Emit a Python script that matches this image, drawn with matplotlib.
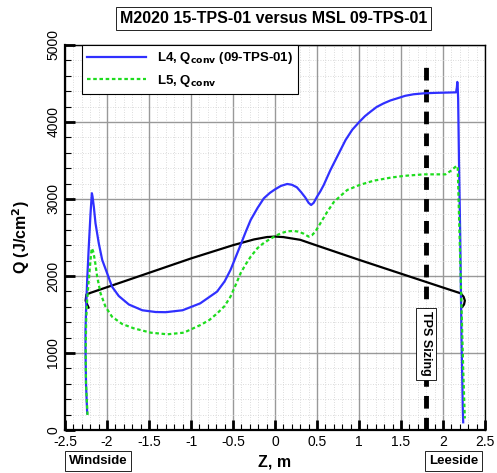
import matplotlib
matplotlib.use("Agg")
import matplotlib.pyplot as plt
from matplotlib.ticker import MultipleLocator

plt.rcParams["font.family"] = ["Liberation Sans", "DejaVu Sans"]

# L4, Q_conv (09-TPS-01)
l4_z = [-2.236, -2.250, -2.256, -2.256, -2.248, -2.236, -2.217, -2.196, -2.185, -2.18,
        -2.172, -2.157, -2.137, -2.098, -2.057, -2.0, -1.94, -1.86, -1.74, -1.58,
        -1.42, -1.3, -1.1, -0.89, -0.69, -0.6, -0.53, -0.47, -0.41, -0.35,
        -0.29, -0.21, -0.133, -0.06, 0.0, 0.07, 0.145, 0.2, 0.26, 0.31,
        0.36, 0.40, 0.43, 0.46, 0.50, 0.54, 0.58, 0.66, 0.74, 0.84,
        0.92, 1.006, 1.07, 1.137, 1.21, 1.295, 1.375, 1.455, 1.55, 1.65,
        1.77, 1.9, 2.05, 2.155, 2.165, 2.17, 2.175, 2.18, 2.19, 2.205,
        2.22, 2.235, 2.24]
l4_q = [216, 600, 1039, 1299, 1601, 1948, 2381, 2814, 3000, 3075,
        3030, 2900, 2684, 2424, 2208, 2040, 1861, 1740, 1630, 1555,
        1532, 1530, 1555, 1645, 1797, 1930, 2078, 2240, 2403, 2570,
        2727, 2880, 3009, 3080, 3125, 3170, 3195, 3185, 3152, 3090,
        3020, 2950, 2922, 2950, 3030, 3100, 3182, 3377, 3550, 3766,
        3900, 4004, 4075, 4134, 4195, 4243, 4280, 4307, 4340, 4360,
        4372, 4378, 4382, 4385, 4450, 4520, 4450, 4300, 3500, 2500,
        1200, 300, 100]

# L5, Q_conv
l5_z = [-2.232, -2.25, -2.254, -2.248, -2.236, -2.217, -2.196, -2.185, -2.18, -2.165,
        -2.145, -2.117, -2.077, -2.018, -1.94, -1.82, -1.68, -1.48, -1.28, -1.086,
        -0.887, -0.78, -0.688, -0.6, -0.53, -0.47, -0.41, -0.35, -0.29, -0.21,
        -0.133, -0.06, 0.006, 0.07, 0.145, 0.22, 0.28, 0.34, 0.40, 0.44,
        0.48, 0.54, 0.62, 0.70, 0.78, 0.86, 1.006, 1.176, 1.375, 1.533,
        1.77, 2.03, 2.09, 2.16, 2.175, 2.185, 2.2, 2.22, 2.24, 2.255,
        2.26]
l5_q = [195, 600, 1000, 1429, 1688, 1948, 2208, 2330, 2360, 2320,
        2208, 1991, 1775, 1601, 1471, 1377, 1320, 1264, 1243, 1264,
        1364, 1430, 1515, 1610, 1732, 1880, 2035, 2150, 2250, 2360,
        2430, 2480, 2520, 2555, 2580, 2585, 2576, 2550, 2511, 2530,
        2576, 2684, 2830, 2960, 3040, 3117, 3182, 3238, 3277, 3300,
        3320, 3320, 3364, 3429, 3420, 3000, 2400, 1600, 800, 300,
        150]

# MSL 09-TPS-01 design curve
msl_z = [-2.22, -2.255, -2.245, -2.2, -1.5, -1.0, -0.5, -0.25, -0.1, 0.0,
         0.1, 0.3, 0.5, 1.0, 1.5, 2.0, 2.21, 2.245, 2.26, 2.25, 2.23]
msl_q = [1590, 1680, 1760, 1780, 2041, 2228, 2400, 2475, 2505, 2512,
         2505, 2470, 2395, 2210, 2030, 1850, 1775, 1730, 1680, 1630, 1600]

tps_sizing_z = 1.8
tps_sizing_top = 4800

fig = plt.figure(figsize=(4.97, 4.73), dpi=100)
ax = fig.add_axes([0.1308, 0.0909, 0.8451, 0.814])

ax.plot(l4_z, l4_q, color="#3030ff", lw=1.6, solid_joinstyle="round",
        label=r"L4, Q$_\mathbf{conv}$ (09-TPS-01)", zorder=4)
ax.plot(l5_z, l5_q, color="#1edc1e", lw=1.6, ls=(0, (1.6, 1.2)),
        label=r"L5, Q$_\mathbf{conv}$", zorder=4)
ax.plot(msl_z, msl_q, color="black", lw=1.6, solid_joinstyle="round", zorder=3)
ax.plot([tps_sizing_z, tps_sizing_z], [0, tps_sizing_top], color="black", lw=3.5,
        ls=(0, (2.6, 1.9)), zorder=2)

ax.text(tps_sizing_z, 1120, "TPS Sizing", rotation=-90, ha="center", va="center",
        fontsize=9, fontweight="bold", zorder=5,
        bbox=dict(boxstyle="square,pad=0.3", fc="white", ec="black", lw=0.6))

ax.set_xlim(-2.5, 2.5)
ax.set_ylim(0, 5000)
ax.xaxis.set_major_locator(MultipleLocator(0.5))
ax.xaxis.set_minor_locator(MultipleLocator(0.1))
ax.yaxis.set_major_locator(MultipleLocator(1000))
ax.yaxis.set_minor_locator(MultipleLocator(200))
ax.tick_params(which="major", direction="in", length=7, width=2, labelsize=10)
ax.tick_params(which="minor", direction="in", length=4, width=0.8)
ax.set_xticklabels([f"{v:g}" for v in ax.get_xticks()])
for lab in ax.get_yticklabels():
    lab.set_rotation(90)
    lab.set_va("center")
ax.grid(which="major", color="#999999", lw=1.0)
ax.grid(which="minor", color="#d0d0d0", lw=0.6, ls=(0, (1, 2)))
ax.set_axisbelow(True)
for s in ax.spines.values():
    s.set_linewidth(1.0)
ax.spines["left"].set_linewidth(1.6)
ax.spines["bottom"].set_linewidth(1.6)

ax.set_xlabel("Z, m", fontsize=11.5, fontweight="bold", labelpad=4)
ax.set_ylabel(r"Q (J/cm$^\mathbf{2}$)", fontsize=11.5, fontweight="bold", labelpad=10)

leg = ax.legend(loc="upper left", bbox_to_anchor=(0.04, 1.0), borderaxespad=0,
                fancybox=False, framealpha=1, edgecolor="black", handlelength=4.5,
                prop={"weight": "bold", "size": 9.5})
leg.get_frame().set_linewidth(0.8)

fig.text(0.55, 0.96, "M2020 15-TPS-01 versus MSL 09-TPS-01", ha="center", va="center",
         fontsize=11.5, fontweight="bold",
         bbox=dict(boxstyle="square,pad=0.25", fc="white", ec="black", lw=0.6))
fig.text(0.197, 0.026, "Windside", ha="center", va="center", fontsize=9.5, fontweight="bold",
         bbox=dict(boxstyle="square,pad=0.3", fc="white", ec="black", lw=0.6))
fig.text(0.913, 0.026, "Leeside", ha="center", va="center", fontsize=9.5, fontweight="bold",
         bbox=dict(boxstyle="square,pad=0.3", fc="white", ec="black", lw=0.6))

fig.savefig("out.png", dpi=100)
